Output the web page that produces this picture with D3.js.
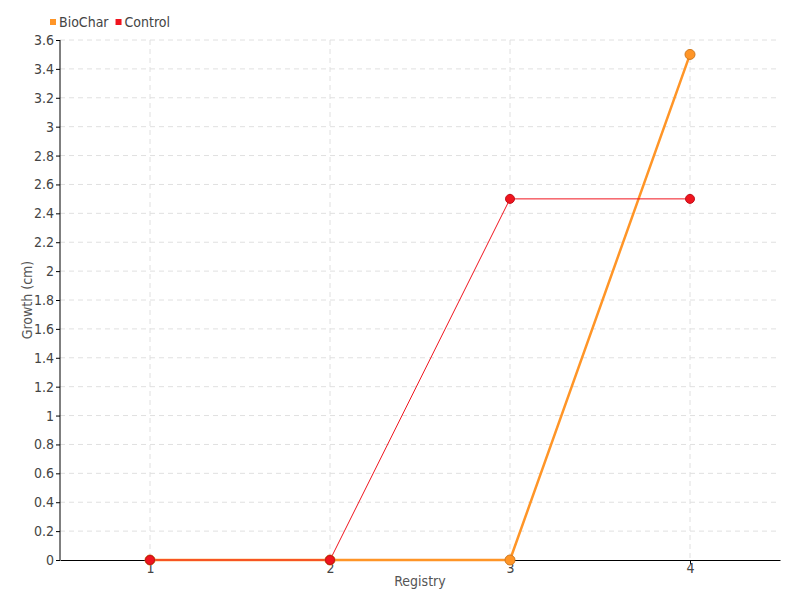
<!DOCTYPE html>
<html>
<head>
<meta charset="utf-8">
<script src="https://cdn.jsdelivr.net/npm/d3@7"></script>
<style>
  body { margin: 0; background: #fff; }
  svg text { font-family: "DejaVu Sans", sans-serif; font-stretch: condensed; }
</style>
</head>
<body>
<svg id="chart" width="800" height="600"></svg>
<script>
// chart data
const registry = ["1", "2", "3", "4"];
const biochar = [0, 0, 0, 3.5];
const control = [0, 0, 2.5, 2.5];
const yTicks = [0, 0.2, 0.4, 0.6, 0.8, 1, 1.2, 1.4, 1.6, 1.8, 2, 2.2, 2.4, 2.6, 2.8, 3, 3.2, 3.4, 3.6];

const margin = { top: 40, right: 20, bottom: 40, left: 60 };
const width = 800 - margin.left - margin.right;
const height = 600 - margin.top - margin.bottom;

const svg = d3.select("#chart");
const g = svg.append("g").attr("transform", "translate(" + margin.left + "," + margin.top + ")");

const x = d3.scalePoint().domain(registry).range([0, width]).padding(0.5);
const y = d3.scaleLinear().domain([0, 3.6]).range([height, 0]);

// grid lines
g.append("g")
  .selectAll("line")
  .data(yTicks.slice(1))
  .enter()
  .append("line")
  .attr("x1", 0)
  .attr("x2", width)
  .attr("y1", (d) => y(d))
  .attr("y2", (d) => y(d))
  .attr("stroke", "#e0e0e0")
  .attr("stroke-dasharray", "5,4");

g.append("g")
  .selectAll("line")
  .data(registry)
  .enter()
  .append("line")
  .attr("x1", (d) => x(d))
  .attr("x2", (d) => x(d))
  .attr("y1", 0)
  .attr("y2", height)
  .attr("stroke", "#e0e0e0")
  .attr("stroke-dasharray", "5,4");

// axes
const yAxis = g.append("g")
  .call(d3.axisLeft(y).tickValues(yTicks).tickSize(4).tickFormat((d) => String(+d.toFixed(1))));
const xAxis = g.append("g")
  .attr("transform", "translate(0," + height + ")")
  .call(d3.axisBottom(x).tickSize(4).tickSizeOuter(0));

[yAxis, xAxis].forEach((a) => {
  a.select(".domain").attr("stroke", "#000");
  a.selectAll(".tick line").attr("stroke", "#000");
  a.selectAll("text").attr("fill", "#444").style("font-size", "14px");
});
yAxis.select(".domain").attr("d", "M0," + height + "V0");
yAxis.selectAll(".tick text").attr("x", -6);
xAxis.selectAll(".tick text").attr("y", 3);

// axis titles
g.append("text")
  .attr("transform", "rotate(-90)")
  .attr("x", -height / 2)
  .attr("y", -28)
  .attr("text-anchor", "middle")
  .attr("fill", "#555")
  .style("font-size", "14px")
  .text("Growth (cm)");

g.append("text")
  .attr("x", width / 2)
  .attr("y", height + 26)
  .attr("text-anchor", "middle")
  .attr("fill", "#555")
  .style("font-size", "14px")
  .text("Registry");

// series
const series = [
  { name: "BioChar", values: biochar, color: "#ff9527", stroke: "#d07a20", width: 2.5, r: 5 },
  { name: "Control", values: control, color: "#f0141e", stroke: "#c0101a", width: 1, r: 4.5 },
];

const line = d3.line()
  .x((d, i) => x(registry[i]))
  .y((d) => y(d));

series.forEach((s) => {
  g.append("path")
    .datum(s.values)
    .attr("fill", "none")
    .attr("stroke", s.color)
    .attr("stroke-width", s.width)
    .attr("d", line);
});

series.forEach((s) => {
  g.append("g")
    .selectAll("circle")
    .data(s.values)
    .enter()
    .append("circle")
    .attr("cx", (d, i) => x(registry[i]))
    .attr("cy", (d) => y(d))
    .attr("r", s.r)
    .attr("fill", s.color)
    .attr("stroke", s.stroke)
    .attr("stroke-width", 1);
});

// legend
const legend = svg.append("g").attr("transform", "translate(50,22)");
let lx = 0;
series.forEach((s) => {
  const item = legend.append("g").attr("transform", "translate(" + lx + ",0)");
  item.append("rect")
    .attr("x", 0)
    .attr("y", -3)
    .attr("width", 6)
    .attr("height", 6)
    .attr("fill", s.color);
  const t = item.append("text")
    .attr("x", 9)
    .attr("y", 5)
    .attr("fill", "#444")
    .style("font-size", "14px")
    .text(s.name);
  lx += 9 + t.node().getComputedTextLength() + 7;
});
</script>
</body>
</html>
